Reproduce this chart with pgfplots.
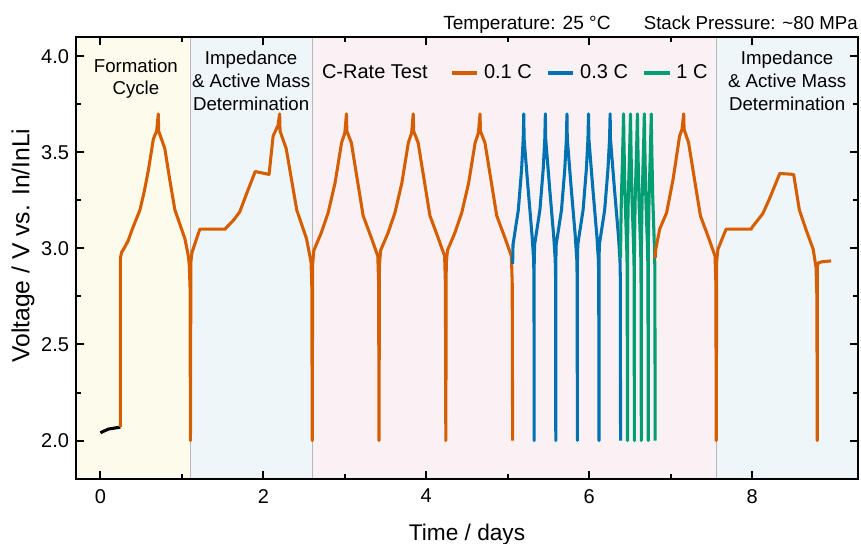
\documentclass[border=0pt]{standalone}
\usepackage{fontspec}
\setmainfont{Liberation Sans}
\usepackage{pgfplots}
\pgfplotsset{compat=1.18}
\definecolor{corange}{HTML}{D55E00}
\definecolor{cblue}{HTML}{0072B2}
\definecolor{cgreen}{HTML}{009E73}
\definecolor{bgyellow}{HTML}{FDFBEB}
\definecolor{bgblue}{HTML}{EFF6FA}
\definecolor{bgpink}{HTML}{F9F1F4}
\begin{document}
\begin{tikzpicture}
\begin{axis}[
  scale only axis, width=586.5pt, height=331.5pt,
  xmin=-0.3, xmax=9.3, ymin=1.8, ymax=4.1,
  xtick={0,2,4,6,8}, ytick={2,2.5,3,3.5,4},
  minor x tick num=1, minor y tick num=1,
  /pgf/number format/assume math mode=true,
  tick label style={font=\fontsize{15}{18}\selectfont},
  xticklabel style={yshift=-4pt},
  yticklabel style={xshift=-1.75pt, /pgf/number format/fixed, /pgf/number format/fixed zerofill, /pgf/number format/precision=1},
  axis line style={line width=1.5pt},
  major tick length=6pt, minor tick length=3.5pt,
  every tick/.style={black, line width=1.5pt},
  axis on top,
  xlabel={Time / days}, ylabel={Voltage / V vs. In/InLi},
  xlabel style={font=\fontsize{17}{20}\selectfont, at={(axis description cs:0.5,0)}, anchor=base, yshift=-45.75pt},
  ylabel style={font=\fontsize{18.5}{22}\selectfont, at={(axis description cs:-0.0596,0.528)}, anchor=base},
  legend style={draw=none, fill=none, at={(0.4783,0.9186)}, anchor=west, inner sep=0pt,
    font=\fontsize{15}{18}\selectfont,
    /tikz/every odd column/.append style={column sep=2pt},
    /tikz/every even column/.append style={column sep=9pt}},
  legend columns=3,
  legend image code/.code={\draw[#1] (0pt,0pt) -- (19pt,0pt);},
  every axis plot/.append style={line width=2.3pt, line join=round, mark=none},
]
\fill[bgyellow] (axis cs:-0.3,1.8) rectangle (axis cs:1.10,4.1);
\fill[bgblue] (axis cs:1.10,1.8) rectangle (axis cs:2.60,4.1);
\fill[bgpink] (axis cs:2.60,1.8) rectangle (axis cs:7.56,4.1);
\fill[bgblue] (axis cs:7.56,1.8) rectangle (axis cs:9.3,4.1);
\draw[black!28, line width=0.6pt] (axis cs:1.10,1.8) -- (axis cs:1.10,4.1);
\draw[black!28, line width=0.6pt] (axis cs:2.60,1.8) -- (axis cs:2.60,4.1);
\draw[black!28, line width=0.6pt] (axis cs:7.56,1.8) -- (axis cs:7.56,4.1);

\addplot[black, forget plot] coordinates {(0,2.04)(0.03,2.047)(0.1,2.06)(0.245,2.07)};

\addplot[corange] coordinates {
(0.245,2.07)(0.245,2.95)(0.26,2.98)(0.29,3.00)(0.34,3.04)(0.40,3.11)(0.485,3.20)(0.54,3.30)(0.59,3.41)(0.65,3.57)(0.69,3.61)(0.71,3.70)(0.715,3.61)(0.79,3.52)(0.85,3.36)(0.914,3.20)(0.98,3.12)(1.037,3.05)(1.075,2.97)(1.09,2.92)(1.10,2.80)(1.105,2.0)
(1.11,2.93)(1.125,2.98)(1.22,3.10)(1.53,3.10)(1.55,3.11)(1.64,3.15)(1.71,3.19)(1.79,3.28)(1.90,3.40)(2.07,3.385)(2.12,3.585)(2.18,3.64)(2.20,3.70)(2.205,3.61)(2.28,3.52)(2.41,3.20)(2.53,3.05)(2.585,2.93)(2.595,2.80)(2.60,2.0)
(2.605,2.92)(2.62,2.99)(2.71,3.08)(2.795,3.185)(2.88,3.34)(2.96,3.55)(3.00,3.60)(3.02,3.70)(3.025,3.61)(3.08,3.55)(3.225,3.17)(3.33,3.05)(3.405,2.96)(3.415,2.82)(3.42,2.0)
(3.425,2.92)(3.44,2.99)(3.53,3.08)(3.615,3.185)(3.70,3.34)(3.78,3.55)(3.82,3.60)(3.84,3.70)(3.845,3.61)(3.90,3.55)(4.045,3.17)(4.15,3.05)(4.225,2.96)(4.235,2.82)(4.24,2.0)
(4.245,2.92)(4.26,2.99)(4.35,3.08)(4.435,3.185)(4.52,3.34)(4.60,3.55)(4.64,3.60)(4.66,3.70)(4.665,3.61)(4.72,3.55)(4.865,3.17)(4.97,3.05)(5.045,2.96)(5.055,2.82)(5.06,2.0)
};
\addlegendentry{0.1 C}

\addplot[cblue] coordinates {
(5.06,2.92)(5.065,3.02)(5.13,3.20)(5.17,3.41)(5.19,3.57)(5.197,3.70)(5.201,3.57)(5.25,3.31)(5.30,3.06)(5.318,2.94)(5.322,2.85)(5.325,2.0)
(5.325,2.92)(5.33,3.02)(5.395,3.20)(5.435,3.41)(5.455,3.57)(5.462,3.70)(5.466,3.57)(5.515,3.31)(5.565,3.06)(5.583,2.94)(5.587,2.85)(5.59,2.0)
(5.59,2.92)(5.595,3.02)(5.66,3.20)(5.70,3.41)(5.72,3.57)(5.727,3.70)(5.731,3.57)(5.78,3.31)(5.83,3.06)(5.848,2.94)(5.852,2.85)(5.855,2.0)
(5.855,2.92)(5.86,3.02)(5.925,3.20)(5.965,3.41)(5.985,3.57)(5.992,3.70)(5.996,3.57)(6.045,3.31)(6.095,3.06)(6.113,2.94)(6.117,2.85)(6.12,2.0)
(6.12,2.92)(6.125,3.02)(6.19,3.20)(6.23,3.41)(6.25,3.57)(6.257,3.70)(6.261,3.57)(6.31,3.31)(6.36,3.06)(6.378,2.94)(6.382,2.85)(6.385,2.0)
};
\addlegendentry{0.3 C}

\addplot[cgreen] coordinates {
(6.385,2.95)(6.388,3.08)(6.395,3.26)(6.415,3.57)(6.422,3.70)(6.426,3.57)(6.44,3.27)(6.461,3.00)(6.466,2.90)(6.47,2.0)
(6.47,2.95)(6.473,3.08)(6.48,3.26)(6.50,3.57)(6.507,3.70)(6.511,3.57)(6.525,3.27)(6.546,3.00)(6.551,2.90)(6.555,2.0)
(6.555,2.95)(6.558,3.08)(6.565,3.26)(6.585,3.57)(6.592,3.70)(6.596,3.57)(6.61,3.27)(6.631,3.00)(6.636,2.90)(6.64,2.0)
(6.64,2.95)(6.643,3.08)(6.65,3.26)(6.67,3.57)(6.677,3.70)(6.681,3.57)(6.695,3.27)(6.716,3.00)(6.721,2.90)(6.725,2.0)
(6.725,2.95)(6.728,3.08)(6.735,3.26)(6.755,3.57)(6.762,3.70)(6.766,3.57)(6.78,3.27)(6.801,3.00)(6.806,2.90)(6.81,2.0)
};
\addlegendentry{1 C}

\addplot[corange, forget plot] coordinates {
(6.81,2.95)(6.815,2.99)(6.865,3.10)(6.95,3.185)(7.03,3.36)(7.11,3.585)(7.14,3.62)(7.16,3.70)(7.165,3.62)(7.22,3.55)(7.365,3.17)(7.47,3.05)(7.545,2.96)(7.555,2.82)(7.56,2.0)
(7.565,2.93)(7.58,2.995)(7.68,3.10)(7.99,3.10)(8.00,3.11)(8.13,3.18)(8.21,3.255)(8.34,3.39)(8.51,3.385)(8.58,3.20)(8.66,3.10)(8.75,2.995)(8.785,2.90)(8.795,2.75)(8.80,2.0)
(8.80,2.91)(8.815,2.925)(8.85,2.93)(8.97,2.935)
};

\node[align=center, font=\fontsize{14}{16.5}\selectfont] at (axis cs:0.435,3.881) {Formation\\Cycle};
\node[align=center, font=\fontsize{14}{17}\selectfont] at (axis cs:1.85,3.872) {Impedance\\\& Active Mass\\Determination};
\node[align=center, font=\fontsize{14}{17}\selectfont] at (axis cs:8.43,3.872) {Impedance\\\& Active Mass\\Determination};
\node[anchor=west, inner sep=0pt, font=\fontsize{15}{18}\selectfont] at (axis cs:2.717,3.918) {C-Rate Test};
\end{axis}
\node[anchor=base west, inner sep=0pt, font=\fontsize{14.3}{17}\selectfont] at ([xshift=275.25pt, yshift=5.25pt]current axis.north west) {Temperature: 25 °C};
\node[anchor=base east, inner sep=0pt, font=\fontsize{14}{17}\selectfont] at ([yshift=5.25pt]current axis.north east) {Stack Pressure: \textasciitilde80 MPa};
\pgfresetboundingbox
\path ([shift={(-57pt,-48pt)}]current axis.south west) rectangle ([shift={(2.25pt,27.75pt)}]current axis.north east);
\end{tikzpicture}
\end{document}
